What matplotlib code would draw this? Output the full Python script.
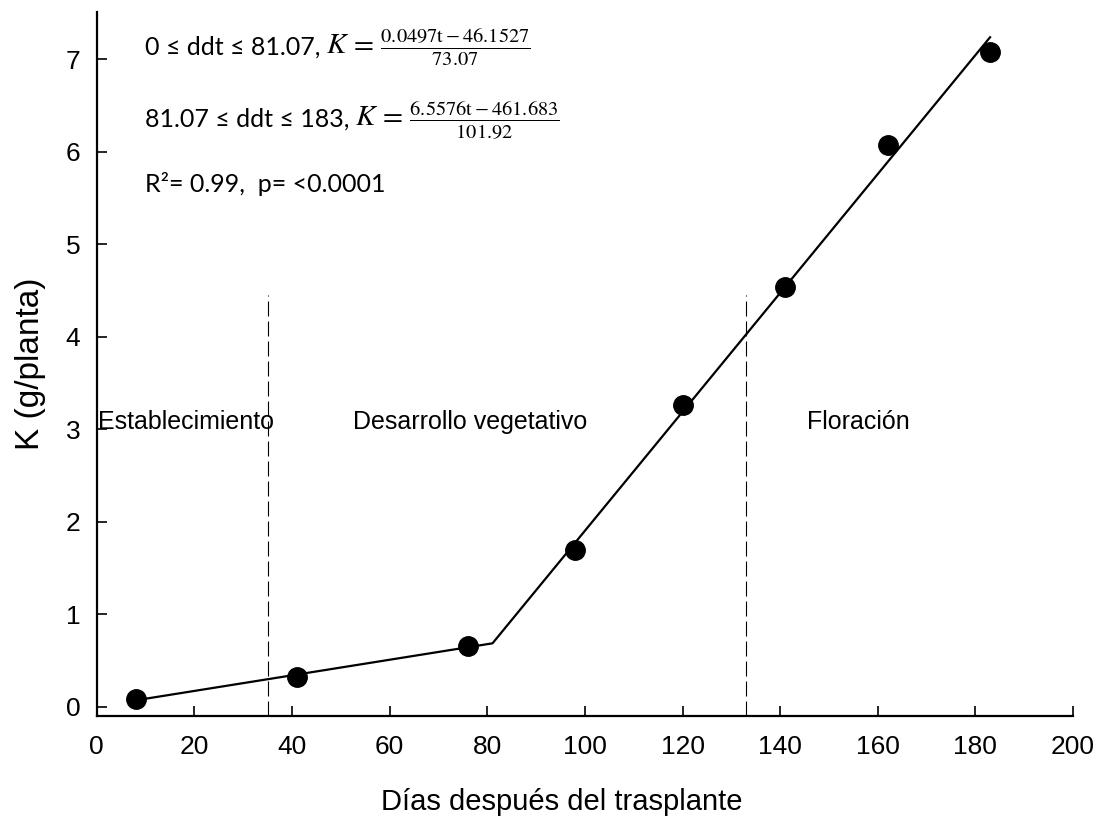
import matplotlib
matplotlib.use("Agg")
import matplotlib.pyplot as plt

plt.rcParams['font.family'] = ['Liberation Sans', 'DejaVu Sans']
plt.rcParams['mathtext.fontset'] = 'stix'

# measured K per plant
dias = [8, 41, 76, 98, 120, 141, 162, 183]
k_planta = [0.08, 0.32, 0.66, 1.69, 3.26, 4.54, 6.07, 7.08]

# segmented regression, breakpoint at 81.07 ddt
ajuste_x = [8, 81.07, 183]
ajuste_y = [0.07, 0.686, 7.24]

# phase limits
limites_fase = [35, 133]
altura_limite = 4.45
fases = ["Establecimiento", "Desarrollo vegetativo", "Floración"]
fases_x = [0.2, 76.5, 156]
fases_y = 3.0

rangos = ["0 ≤ ddt ≤ 81.07,", "81.07 ≤ ddt ≤ 183,"]
modelos = [
    r"$K\,=\,\frac{0.0497\mathrm{t}-46.1527}{73.07}$",
    r"$K\,=\,\frac{6.5576\mathrm{t}-461.683}{101.92}$",
]
ajuste_txt = "R²= 0.99,  p= <0.0001"


def main():
    fig = plt.figure(figsize=(11, 8.18), dpi=100)
    ax = fig.add_axes([0.088, 0.1247, 0.8875, 0.8603])

    ax.plot(ajuste_x, ajuste_y, color="black", lw=1.6, solid_joinstyle="round", zorder=2)
    ax.plot(dias, k_planta, "o", color="black", ms=14, zorder=3)

    for x in limites_fase:
        ax.plot([x, x], [-0.1, altura_limite], color="black", lw=0.8,
                dashes=(13.5, 4.5), zorder=1)

    ax.text(fases_x[0], fases_y, fases[0], fontsize=18, ha="left", va="baseline")
    ax.text(fases_x[1], fases_y, fases[1], fontsize=18, ha="center", va="baseline")
    ax.text(fases_x[2], fases_y, fases[2], fontsize=18, ha="center", va="baseline")

    # equations: plain range text followed by the model as mathtext
    fam = ['Lato', 'DejaVu Sans']
    for i, base_px in enumerate([55, 127]):
        t = fig.text(145 / 1100, 1 - base_px / 818, rangos[i], fontsize=18,
                     family=fam, va="baseline")
        ax.annotate(modelos[i], xy=(1, 0), xycoords=t, xytext=(4, 3.6),
                    textcoords="offset points", fontsize=21, va="baseline")
    fig.text(145 / 1100, 1 - 192 / 818, ajuste_txt, fontsize=18, family=fam, va="baseline")

    ax.set_xlim(0, 200)
    ax.set_ylim(-0.1, 7.51)
    ax.set_xticks(range(0, 201, 20))
    ax.set_yticks(range(0, 8))

    for side in ["top", "right"]:
        ax.spines[side].set_visible(False)
    for side in ["left", "bottom"]:
        ax.spines[side].set_linewidth(1.6)

    ax.tick_params(axis="x", direction="in", length=7, width=1.2, pad=14, labelsize=19)
    ax.tick_params(axis="y", direction="in", length=7, width=1.2, pad=12, labelsize=19)

    ax.set_xlabel("Días después del trasplante", fontsize=21)
    ax.xaxis.set_label_coords((562 - 97) / 976, -0.102)
    ax.set_ylabel("K (g/planta)", fontsize=24, labelpad=14)

    fig.savefig("out.png", dpi=100)


if __name__ == '__main__':
    main()
